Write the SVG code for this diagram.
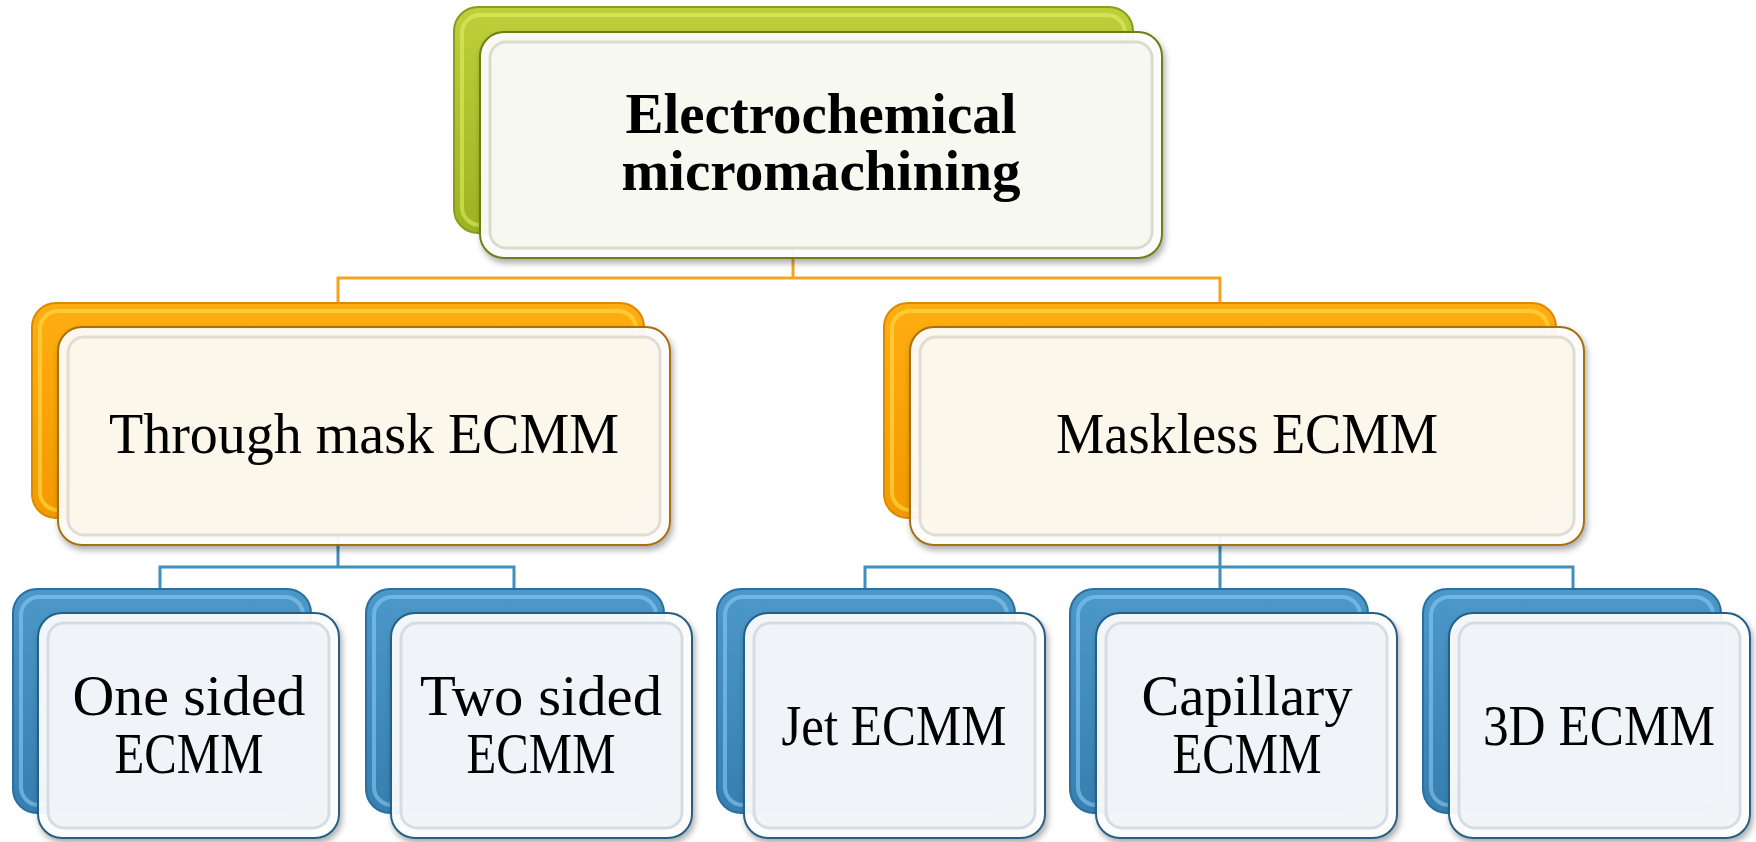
<svg xmlns="http://www.w3.org/2000/svg" width="1756" height="842" viewBox="0 0 1756 842">
<style>
.conn-o{stroke:#f6a31c;stroke-width:3;fill:none}
.conn-b{stroke:#3f8fc0;stroke-width:3;fill:none}
.lbl{font-family:"Liberation Serif","Times New Roman",serif;font-size:56px;fill:#000;text-anchor:middle}
.bold{font-weight:bold}
.bk-g{fill:url(#gG);stroke:#8a9c1c;stroke-width:2}
.bk-o{fill:url(#gO);stroke:#d98b00;stroke-width:2}
.bk-b{fill:url(#gB);stroke:#2b6f9d;stroke-width:2}
.hl-g{fill:none;stroke:#e6f06a;stroke-width:4;opacity:.55}
.hl-o{fill:none;stroke:#ffe04a;stroke-width:4;opacity:.6}
.hl-b{fill:none;stroke:#8fd0f5;stroke-width:4;opacity:.55}
.fr-g{fill:#ffffff;fill-opacity:.92;stroke:#6f7d17;stroke-width:2}
.fr-o{fill:#ffffff;fill-opacity:.92;stroke:#a8700e;stroke-width:2}
.fr-b{fill:#ffffff;fill-opacity:.92;stroke:#265f85;stroke-width:2}
.fc-g{fill:#f6f8ef;fill-opacity:.9;stroke:#d9dccf;stroke-width:3}
.fc-o{fill:#fcf6ea;fill-opacity:.9;stroke:#e2ddd3;stroke-width:3}
.fc-b{fill:#eff4f7;fill-opacity:.9;stroke:#d5dde3;stroke-width:3}
</style>
<defs>
<linearGradient id="gG" x1="0" y1="0" x2="0" y2="1"><stop offset="0" stop-color="#bdd03a"/><stop offset="1" stop-color="#9cb322"/></linearGradient>
<linearGradient id="gO" x1="0" y1="0" x2="0" y2="1"><stop offset="0" stop-color="#ffad12"/><stop offset="1" stop-color="#f39a00"/></linearGradient>
<linearGradient id="gB" x1="0" y1="0" x2="0" y2="1"><stop offset="0" stop-color="#4b98c9"/><stop offset="1" stop-color="#367fb0"/></linearGradient>
<filter id="sh" x="-10%" y="-10%" width="125%" height="130%"><feDropShadow dx="2" dy="4" stdDeviation="3" flood-color="#000" flood-opacity="0.35"/></filter>
</defs>

<g id="connectors">
<path class="conn-o" d="M793,233 V278"/>
<path class="conn-o" d="M338,303 V278 H1220 V303"/>
<path class="conn-b" d="M338,518 V567"/>
<path class="conn-b" d="M160,589 V567 H514 V589"/>
<path class="conn-b" d="M1220,518 V589"/>
<path class="conn-b" d="M865,589 V567 H1573 V589"/>
</g>

<g id="node-ecm">
<rect class="bk-g" x="454" y="7" width="679" height="226" rx="24"/>
<rect class="hl-g" x="462" y="15" width="663" height="210" rx="18"/>
<rect class="fr-g" x="480" y="32" width="682" height="226" rx="24" filter="url(#sh)"/>
<rect class="fc-g" x="490" y="42" width="662" height="206" rx="16"/>
<text class="lbl bold" x="821" y="133" textLength="391" lengthAdjust="spacingAndGlyphs">Electrochemical</text>
<text class="lbl bold" x="821" y="190" textLength="399" lengthAdjust="spacingAndGlyphs">micromachining</text>
</g>

<g id="node-through">
<rect class="bk-o" x="32" y="303" width="612" height="215" rx="24"/>
<rect class="hl-o" x="40" y="311" width="596" height="199" rx="18"/>
<rect class="fr-o" x="58" y="327" width="612" height="218" rx="24" filter="url(#sh)"/>
<rect class="fc-o" x="68" y="337" width="592" height="198" rx="16"/>
<text class="lbl" x="364" y="453" textLength="510" lengthAdjust="spacingAndGlyphs">Through mask ECMM</text>
</g>

<g id="node-maskless">
<rect class="bk-o" x="884" y="303" width="672" height="215" rx="24"/>
<rect class="hl-o" x="892" y="311" width="656" height="199" rx="18"/>
<rect class="fr-o" x="910" y="327" width="674" height="218" rx="24" filter="url(#sh)"/>
<rect class="fc-o" x="920" y="337" width="654" height="198" rx="16"/>
<text class="lbl" x="1247" y="453" textLength="382" lengthAdjust="spacingAndGlyphs">Maskless ECMM</text>
</g>

<g id="node-one">
<rect class="bk-b" x="13" y="589" width="298" height="224" rx="24"/>
<rect class="hl-b" x="21" y="597" width="282" height="208" rx="18"/>
<rect class="fr-b" x="38" y="613" width="301" height="225" rx="24" filter="url(#sh)"/>
<rect class="fc-b" x="48" y="623" width="281" height="205" rx="16"/>
<text class="lbl" x="189" y="715" textLength="233" lengthAdjust="spacingAndGlyphs">One sided</text>
<text class="lbl" x="189" y="773" textLength="149" lengthAdjust="spacingAndGlyphs">ECMM</text>
</g>

<g id="node-two">
<rect class="bk-b" x="366" y="589" width="298" height="224" rx="24"/>
<rect class="hl-b" x="374" y="597" width="282" height="208" rx="18"/>
<rect class="fr-b" x="391" y="613" width="301" height="225" rx="24" filter="url(#sh)"/>
<rect class="fc-b" x="401" y="623" width="281" height="205" rx="16"/>
<text class="lbl" x="541" y="715" textLength="242" lengthAdjust="spacingAndGlyphs">Two sided</text>
<text class="lbl" x="541" y="773" textLength="149" lengthAdjust="spacingAndGlyphs">ECMM</text>
</g>

<g id="node-jet">
<rect class="bk-b" x="717" y="589" width="298" height="224" rx="24"/>
<rect class="hl-b" x="725" y="597" width="282" height="208" rx="18"/>
<rect class="fr-b" x="744" y="613" width="301" height="225" rx="24" filter="url(#sh)"/>
<rect class="fc-b" x="754" y="623" width="281" height="205" rx="16"/>
<text class="lbl" x="894" y="745" textLength="225" lengthAdjust="spacingAndGlyphs">Jet ECMM</text>
</g>

<g id="node-capillary">
<rect class="bk-b" x="1070" y="589" width="298" height="224" rx="24"/>
<rect class="hl-b" x="1078" y="597" width="282" height="208" rx="18"/>
<rect class="fr-b" x="1096" y="613" width="301" height="225" rx="24" filter="url(#sh)"/>
<rect class="fc-b" x="1106" y="623" width="281" height="205" rx="16"/>
<text class="lbl" x="1247" y="715" textLength="211" lengthAdjust="spacingAndGlyphs">Capillary</text>
<text class="lbl" x="1247" y="773" textLength="149" lengthAdjust="spacingAndGlyphs">ECMM</text>
</g>

<g id="node-3d">
<rect class="bk-b" x="1423" y="589" width="298" height="224" rx="24"/>
<rect class="hl-b" x="1431" y="597" width="282" height="208" rx="18"/>
<rect class="fr-b" x="1449" y="613" width="301" height="225" rx="24" filter="url(#sh)"/>
<rect class="fc-b" x="1459" y="623" width="281" height="205" rx="16"/>
<text class="lbl" x="1599" y="745" textLength="232" lengthAdjust="spacingAndGlyphs">3D ECMM</text>
</g>
</svg>
